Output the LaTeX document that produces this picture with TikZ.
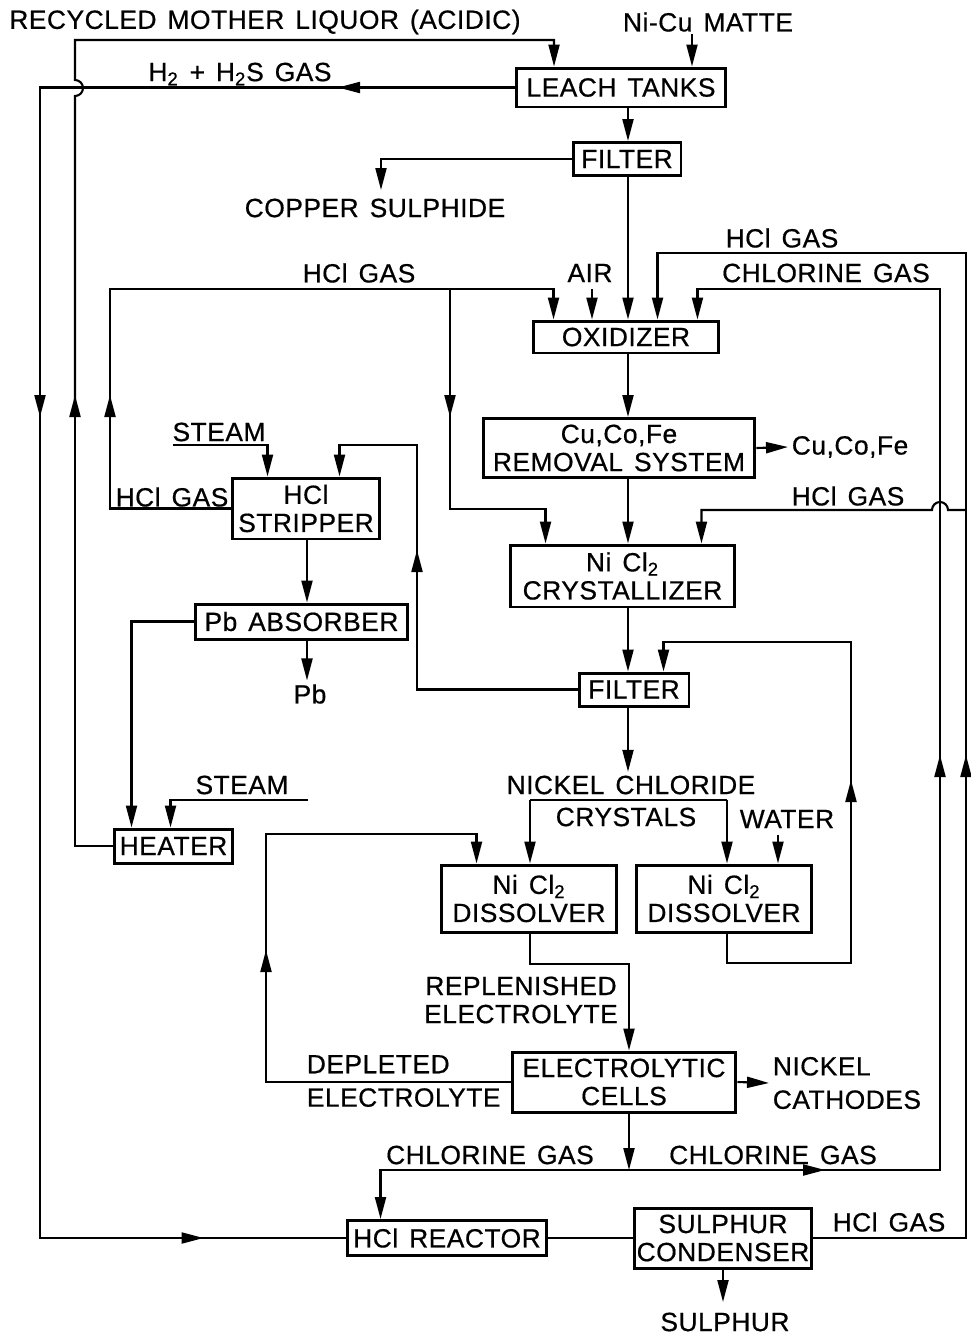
\documentclass[tikz,border=0pt]{standalone}
\usepackage{fontspec}
\setmainfont{Liberation Sans}[LetterSpace=2,WordSpace=1.4,FakeBold=0.6]
\usetikzlibrary{positioning,arrows.meta,calc}

\begin{document}
\begin{tikzpicture}[x=0.02cm,y=-0.02cm,
  font=\fontsize{15pt}{16pt}\selectfont,
  unit/.style 2 args={draw,line width=1.7pt,inner sep=0pt,align=center,minimum width=#1,minimum height=#2},
  lbl/.style={inner sep=2pt,align=center},
  pipe/.style={line width=1.2pt},
  flow/.style={line width=1.2pt,-{Triangle[length=4.4mm,width=2.2mm]}},
  fromtip/.style={shorten <=-1.2mm}]

\useasboundingbox (0,0) rectangle (971,1340);

% process units
\node[unit={4.18cm}{0.78cm}] (leach) at (621,87.5) {LEACH TANKS};
\node[unit={2.16cm}{0.66cm}] (filtA) at (627,159) {FILTER};
\node[unit={3.72cm}{0.64cm}] (oxid) at (626,337) {OXIDIZER};
\node[unit={5.44cm}{1.18cm}] (removal) at (619,448) {Cu,Co,Fe\\REMOVAL SYSTEM};
\node[unit={4.5cm}{1.24cm}] (cryst) at (622.5,576) {Ni Cl\textsubscript{2}\\CRYSTALLIZER};
\node[unit={2.96cm}{1.22cm}] (strip) at (306,508.5) {HCl\\STRIPPER};
\node[unit={4.26cm}{0.7cm}] (absorb) at (301.5,621.5) {Pb ABSORBER};
\node[unit={2.2cm}{0.66cm}] (filtB) at (634,689.5) {FILTER};
\node[unit={2.38cm}{0.68cm}] (heater) at (173.5,846) {HEATER};
\node[unit={3.52cm}{1.34cm}] (dissL) at (529,898.5) {Ni Cl\textsubscript{2}\\DISSOLVER};
\node[unit={3.52cm}{1.34cm}] (dissR) at (724,898.5) {Ni Cl\textsubscript{2}\\DISSOLVER};
\node[unit={4.48cm}{1.2cm}] (cells) at (624,1082) {ELECTROLYTIC\\CELLS};
\node[unit={4.0cm}{0.7cm}] (reactor) at (447,1238) {HCl REACTOR};
\node[unit={3.56cm}{1.2cm}] (cond) at (723,1238) {SULPHUR\\CONDENSER};

% stream labels
\node[lbl] (liquor) at (265,22) {RECYCLED MOTHER LIQUOR (ACIDIC)};
\node[lbl] (matte) at (708,22) {Ni-Cu MATTE};
\node[lbl] (h2) at (240,74) {H\textsubscript{2} + H\textsubscript{2}S GAS};
\node[lbl] (cus) at (375,208) {COPPER SULPHIDE};
\node[lbl] (hclA) at (359,273) {HCl GAS};
\node[lbl] (air) at (590,273) {AIR};
\node[lbl] (hclB) at (782,238) {HCl GAS};
\node[lbl] (clA) at (826,273) {CHLORINE GAS};
\node[lbl,anchor=west] (cucofe) at (788,447) {Cu,Co,Fe};
\node[lbl] (steam1) at (219,432) {STEAM};
\node[lbl] (hclC) at (172,497) {HCl GAS};
\node[lbl] (hclD) at (848,496) {HCl GAS};
\node[lbl] (pb) at (310,694) {Pb};
\node[lbl] (steam2) at (242,785) {STEAM};
\node[lbl] (nicl) at (631,785) {NICKEL CHLORIDE};
\node[lbl] (xtal) at (626,817) {CRYSTALS};
\node[lbl] (water) at (787,819) {WATER};
\node[lbl] (repl) at (521,1000) {REPLENISHED\\ELECTROLYTE};
\node[lbl,anchor=west,align=left] (depl) at (303,1081) {DEPLETED\\[3pt]ELECTROLYTE};
\node[lbl,anchor=west,align=left] (cath) at (769,1083) {NICKEL\\[3pt]CATHODES};
\node[lbl] (clB) at (490,1155) {CHLORINE GAS};
\node[lbl] (clC) at (773,1155) {CHLORINE GAS};
\node[lbl] (hclE) at (889,1222) {HCl GAS};
\node[lbl] (sulph) at (725,1322) {SULPHUR};

% lanes and free ends
\coordinate (main) at (628,0);
\coordinate (pbLane) at (307,0);
\coordinate (matteIn) at (692,34);
\coordinate (liqTip) at (75,395);
\coordinate (h2Tip) at ($(leach.west)+(-177,0)$);
\coordinate (gasTip) at (40,417);
\coordinate (botTip) at ($(reactor.west)+(-142,0)$);
\coordinate (cuOut) at (381,190);
\coordinate (hclTip) at (110,395);
\coordinate (hclJ) at (450,289);
\coordinate (hclDn) at (450,417);
\coordinate (airIn) at (592,289);
\coordinate (hclRTip) at (966,755);
\coordinate (hclRJ) at (966,510);
\coordinate (clJ) at (629,1170);
\coordinate (clTip) at (825,1170);
\coordinate (clUp) at (940,755);
\coordinate (steamA) at (173,445);
\coordinate (stTip) at (417,550);
\coordinate (steamB) at (308,800);
\coordinate (splitL) at (530,800);
\coordinate (splitR) at (727,800);
\coordinate (waterIn) at (778,835);
\coordinate (rcTip) at (851,780);
\coordinate (dpTip) at (266,950);
\coordinate (sOut) at (723,1302);

% feed and mother liquor
\draw[flow] (matteIn) -- (matteIn |- leach.north);
\draw[flow] (heater.west) -| (liqTip);
\draw[flow,fromtip] (liqTip) -- (75,96) arc[start angle=-90,end angle=90,radius=0.16cm] -- (75,40) -| ($(leach.north west)+(39,0)$);

% off gas to hcl reactor
\draw[flow] (leach.west) -- (h2Tip);
\draw[flow,fromtip] (h2Tip) -| (gasTip);
\draw[flow,fromtip] (gasTip) |- (botTip);
\draw[pipe,fromtip] (botTip) -- (reactor.west);

% main line
\draw[flow] (main |- leach.south) -- (main |- filtA.north);
\draw[flow] (filtA.west) -| (cuOut);
\draw[flow] (main |- filtA.south) -- (main |- oxid.north);
\draw[flow] (airIn) -- (airIn |- oxid.north);
\draw[flow] (main |- oxid.south) -- (main |- removal.north);
\draw[flow] (removal.east) -- (cucofe.west);
\draw[flow] (main |- removal.south) -- (main |- cryst.north);
\draw[flow] (main |- cryst.south) -- (main |- filtB.north);
\draw[flow] (main |- filtB.south) -- (main |- nicl.north);

% hcl gas from stripper
\draw[flow] (strip.west) -| (hclTip);
\draw[flow,fromtip] (hclTip) |- (hclJ) -| ($(oxid.north west)+(22,0)$);
\draw[flow] (hclJ) -- (hclDn);
\draw[flow,fromtip] (hclDn) -- (450,509) -| ($(cryst.north west)+(37,0)$);

% hcl gas from sulphur condenser
\draw[flow] (cond.east) -| (hclRTip);
\draw[flow,fromtip] (hclRTip) -- (966,253) -| ($(oxid.north west)+(126,0)$);
\draw[flow] (hclRJ) -- (948,510) arc[start angle=0,end angle=180,radius=0.16cm] -| ($(cryst.north east)+(-35,0)$);

% chlorine gas
\draw[flow] (clJ |- cells.south) -- (clJ);
\draw[flow] (clJ) -| ($(reactor.north west)+(35,0)$);
\draw[flow] (clJ) -- (clTip);
\draw[flow,fromtip] (clTip) -| (clUp);
\draw[flow,fromtip] (clUp) -- (940,289) -| ($(oxid.north east)+(-23,0)$);

% stripper, absorber, heater
\draw[flow] (steamA) -| ($(strip.north west)+(37,0)$);
\draw[flow] (filtB.west) -| (stTip);
\draw[flow,fromtip] (stTip) -- (417,445) -| ($(strip.north west)+(109,0)$);
\draw[flow] (pbLane |- strip.south) -- (pbLane |- absorb.north);
\draw[flow] (pbLane |- absorb.south) -- (pbLane |- pb.north);
\draw[flow] (absorb.west) -| ($(heater.north west)+(19,0)$);
\draw[flow] (steamB) -| ($(heater.north west)+(58,0)$);

% dissolvers and cells
\draw[pipe] (splitL) -- (splitR);
\draw[flow] (splitL) -- (splitL |- dissL.north);
\draw[flow] (splitR) -- (splitR |- dissR.north);
\draw[flow] (waterIn) -- (waterIn |- dissR.north);
\draw[flow] (splitR |- dissR.south) -- (727,963) -| (rcTip);
\draw[flow,fromtip] (rcTip) -- (851,642) -| ($(filtB.north west)+(86,0)$);
\draw[flow] (splitL |- dissL.south) -- (530,964) -| ($(cells.north)+(5,0)$);
\draw[flow] (cells.west) -| (dpTip);
\draw[flow,fromtip] (dpTip) -- (266,834) -| ($(dissL.north west)+(37,0)$);
\draw[flow] (cells.east) -- (cath.west);

% reactor and condenser
\draw[pipe] (reactor.east) -- (cond.west);
\draw[flow] (cond.south) -- (sOut);
\end{tikzpicture}
\end{document}
